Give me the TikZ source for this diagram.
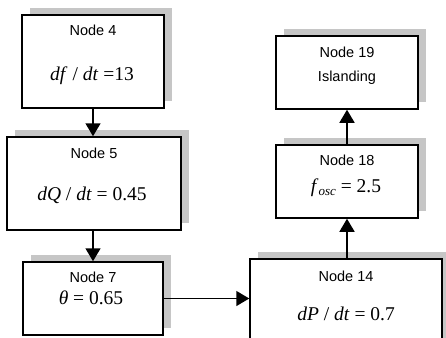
\documentclass[tikz,border=0pt]{standalone}
\usepackage{fontspec}
\setmainfont{Liberation Sans}
\newfontfamily\tms{Liberation Serif}
\usetikzlibrary{arrows.meta, shadows}

\tikzset{
  blk/.style={draw, line width=1.5pt, fill=white, inner sep=0pt,
    drop shadow={shadow xshift=7.5pt, shadow yshift=7pt, fill=gray!45, opacity=1}},
  ttl/.style={font=\fontsize{14.5}{16}\selectfont},
  eqn/.style={font=\fontsize{19.5}{21}\selectfont\tms},
  link/.style={->, line width=1.5pt},
}
\newcommand{\vi}[1]{\textit{#1}}

\begin{document}
\begin{tikzpicture}[x=1pt, y=-1pt, >={Triangle[length=13pt,width=15pt]}]
\useasboundingbox (0,0) rectangle (446,337);
\clip (0,0) rectangle (446,337);
% left column
\node[blk, minimum width=142pt, minimum height=93pt] (n4) at (93,61.5) {};
\node[ttl] (t4) at (93,30) {Node 4};
\node[eqn] (e4) at (92,76) {\vi{df} / \vi{dt} =13};
\node[blk, minimum width=174pt, minimum height=93pt] (n5) at (94,183.5) {};
\node[ttl] (t5) at (94,153) {Node 5};
\node[eqn] (e5) at (92,195) {\vi{dQ} / \vi{dt} = 0.45};
\node[blk, minimum width=140pt, minimum height=73pt] (n7) at (93,298.5) {};
\node[ttl] (t7) at (93,277) {Node 7};
\node[eqn] (e7) at (91,298) {\vi{θ} = 0.65};
% right column
\node[blk, minimum width=142pt, minimum height=73pt] (n19) at (347,72.5) {};
\node[ttl] (t19) at (347,52) {Node 19};
\node[ttl] (l19) at (347,78) {Islanding};
\node[blk, minimum width=142pt, minimum height=73pt] (n18) at (347,181.5) {};
\node[ttl] (t18) at (347,160) {Node 18};
\node[eqn] (e18) at (346,188) {\vi{f}\raisebox{-0.35ex}{\fontsize{13}{13}\selectfont\vi{osc}} = 2.5};
\node[blk, minimum width=192pt, minimum height=100pt] (n14) at (346,309) {};
\node[ttl] (t14) at (346,276) {Node 14};
\node[eqn] (e14) at (346,314) {\vi{dP} / \vi{dt} = 0.7};
% links
\draw[link] (n4.south) -- (n4.south |- n5.north);
\draw[link] (n5.south -| n7.north) -- (n7.north);
\draw[link] (n7.east) -- (n7.east -| n14.west);
\draw[link] (n18.south |- n14.north) -- (n18.south);
\draw[link] (n18.north) -- (n19.south);
\end{tikzpicture}
\end{document}
